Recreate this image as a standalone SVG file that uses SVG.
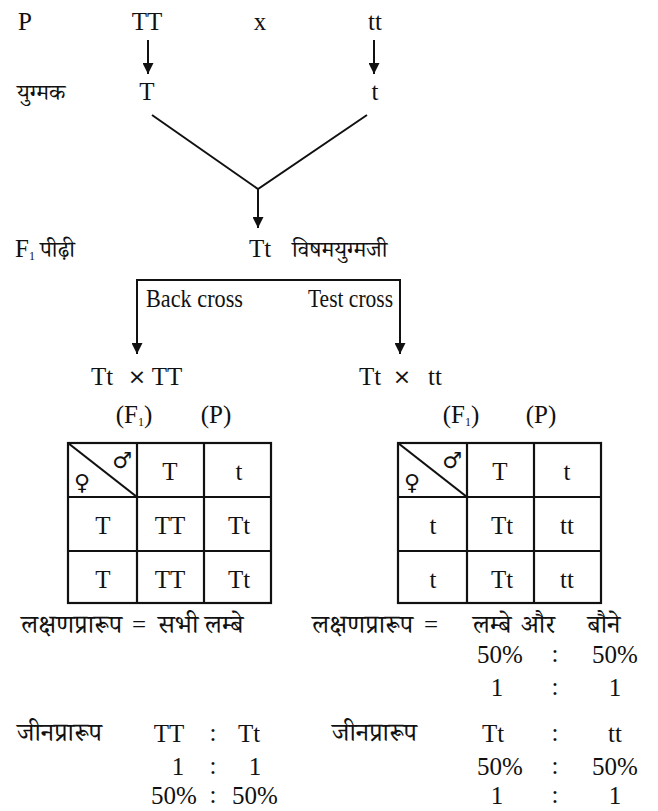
<svg xmlns="http://www.w3.org/2000/svg" width="658" height="811" viewBox="0 0 658 811">
<style>
text{font-family:"Liberation Serif","Noto Serif Devanagari","Noto Sans Devanagari",serif;fill:#111}
.l{font-size:25px}
.h{font-size:23px}
.b{font-size:26px}
.m{text-anchor:middle}
.c{fill:none;stroke:#111;stroke-width:2}
.t{fill:none;stroke:#111;stroke-width:2.2}
.s{font-family:"DejaVu Sans",sans-serif;font-size:22px}
</style>
<defs>
<marker id="ah" viewBox="0 0 10 10" refX="10" refY="5" markerWidth="5.5" markerHeight="5.5" orient="auto" markerUnits="strokeWidth">
<path d="M0,0 L10,5 L0,10 z" fill="#111"/>
</marker>
</defs>
<rect width="658" height="811" fill="#fff"/>

<g id="connectors">
<line class="c" x1="148" y1="40" x2="148" y2="74" marker-end="url(#ah)"/>
<line class="c" x1="374" y1="40" x2="374" y2="74" marker-end="url(#ah)"/>
<polyline class="c" points="152,115 258,189 367,115"/>
<line class="c" x1="258" y1="189" x2="258" y2="228" marker-end="url(#ah)"/>
<polyline class="c" points="137,354 137,280 400,280 400,354" marker-end="url(#ah)"/>
<line class="c" x1="137" y1="340" x2="137" y2="354" marker-end="url(#ah)"/>
</g>

<g id="parents">
<text class="l" x="18" y="30">P</text>
<text class="l m" x="147" y="30">TT</text>
<text class="l m" x="260" y="30">x</text>
<text class="l m" x="375" y="30">tt</text>
</g>
<g id="gametes">
<text class="h" x="17" y="100">युग्मक</text>
<text class="l m" x="147" y="100">T</text>
<text class="l m" x="375" y="100">t</text>
</g>
<g id="f1">
<text class="l" x="15" y="257">F<tspan font-size="12" dy="3">1</tspan></text>
<text class="h" x="40" y="257">पीढ़ी</text>
<text class="l m" x="260" y="257">Tt</text>
<text class="h" x="292" y="257">विषमयुग्मजी</text>
</g>
<g id="labels">
<text class="l" x="146" y="307" textLength="97" lengthAdjust="spacingAndGlyphs">Back cross</text>
<text class="l" x="308" y="307" textLength="85" lengthAdjust="spacingAndGlyphs">Test cross</text>
</g>

<g id="backcross">
<text class="l m" x="102" y="385">Tt</text>
<text class="s m" x="137" y="384" font-size="16">×</text>
<text class="l m" x="167" y="385">TT</text>
<text class="l m" x="134" y="423">(F<tspan font-size="12" dy="3">1</tspan><tspan dy="-3">)</tspan></text>
<text class="l m" x="216" y="423">(P)</text>
</g>
<g id="testcross">
<text class="l m" x="370" y="385">Tt</text>
<text class="s m" x="402" y="384" font-size="16">×</text>
<text class="l m" x="435" y="385">tt</text>
<text class="l m" x="461" y="423">(F<tspan font-size="12" dy="3">1</tspan><tspan dy="-3">)</tspan></text>
<text class="l m" x="541" y="423">(P)</text>
</g>

<g id="table-left">
<rect class="t" x="68" y="443" width="203" height="160"/>
<line class="t" x1="137" y1="443" x2="137" y2="603"/>
<line class="t" x1="204" y1="443" x2="204" y2="603"/>
<line class="t" x1="68" y1="497" x2="271" y2="497"/>
<line class="t" x1="68" y1="551" x2="271" y2="551"/>
<line class="t" x1="68" y1="443" x2="137" y2="497"/>
<text class="s m" x="82" y="490">♀</text>
<text class="s m" x="122" y="468">♂</text>
<text class="l m" x="170" y="480">T</text>
<text class="l m" x="239" y="480">t</text>
<text class="l m" x="103" y="534">T</text>
<text class="l m" x="170" y="534">TT</text>
<text class="l m" x="239" y="534">Tt</text>
<text class="l m" x="103" y="588">T</text>
<text class="l m" x="170" y="588">TT</text>
<text class="l m" x="239" y="588">Tt</text>
</g>

<g id="table-right">
<rect class="t" x="398" y="443" width="203" height="160"/>
<line class="t" x1="467" y1="443" x2="467" y2="603"/>
<line class="t" x1="534" y1="443" x2="534" y2="603"/>
<line class="t" x1="398" y1="497" x2="601" y2="497"/>
<line class="t" x1="398" y1="551" x2="601" y2="551"/>
<line class="t" x1="398" y1="443" x2="467" y2="497"/>
<text class="s m" x="412" y="490">♀</text>
<text class="s m" x="452" y="468">♂</text>
<text class="l m" x="500" y="480">T</text>
<text class="l m" x="567" y="480">t</text>
<text class="l m" x="433" y="534">t</text>
<text class="l m" x="502" y="534">Tt</text>
<text class="l m" x="567" y="534">tt</text>
<text class="l m" x="433" y="588">t</text>
<text class="l m" x="502" y="588">Tt</text>
<text class="l m" x="567" y="588">tt</text>
</g>

<g id="result-left">
<text class="b" x="21" y="633">लक्षणप्रारूप</text>
<text class="l" x="132" y="633">=</text>
<text class="b" x="158" y="633">सभी लम्बे</text>
<text class="b" x="17" y="741">जीनप्रारूप</text>
<text class="l m" x="169" y="742">TT</text>
<text class="l m" x="213" y="741">:</text>
<text class="l m" x="249" y="742">Tt</text>
<text class="l m" x="178" y="775">1</text>
<text class="l m" x="213" y="774">:</text>
<text class="l m" x="255" y="775">1</text>
<text class="l m" x="174" y="804">50%</text>
<text class="l m" x="213" y="803">:</text>
<text class="l m" x="255" y="804">50%</text>
</g>

<g id="result-right">
<text class="b" x="312" y="633">लक्षणप्रारूप</text>
<text class="l" x="424" y="633">=</text>
<text class="b m" x="492" y="633">लम्बे</text>
<text class="b m" x="538" y="633">और</text>
<text class="b m" x="604" y="633">बौने</text>
<text class="l m" x="500" y="663">50%</text>
<text class="l m" x="555" y="662">:</text>
<text class="l m" x="615" y="663">50%</text>
<text class="l m" x="497" y="696">1</text>
<text class="l m" x="555" y="695">:</text>
<text class="l m" x="615" y="696">1</text>
<text class="b" x="332" y="741">जीनप्रारूप</text>
<text class="l m" x="493" y="742">Tt</text>
<text class="l m" x="555" y="741">:</text>
<text class="l m" x="615" y="742">tt</text>
<text class="l m" x="500" y="775">50%</text>
<text class="l m" x="555" y="774">:</text>
<text class="l m" x="615" y="775">50%</text>
<text class="l m" x="497" y="804">1</text>
<text class="l m" x="555" y="803">:</text>
<text class="l m" x="615" y="804">1</text>
</g>
</svg>
